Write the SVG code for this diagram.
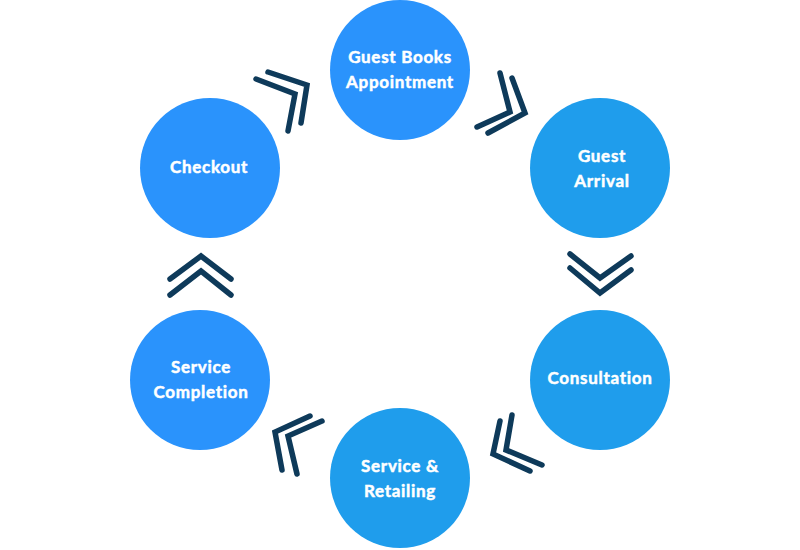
<svg xmlns="http://www.w3.org/2000/svg" width="800" height="550" viewBox="0 0 800 550">
<style>
.a{fill:#2A93FC}
.b{fill:#1F9DEC}
.t{font-family:Lato,"Open Sans","Liberation Sans",sans-serif;font-weight:700;font-size:17px;letter-spacing:0.7px;fill:#fff;stroke:#fff;stroke-width:0.5;text-anchor:middle}
.c{fill:none;stroke:#0E3A5A;stroke-width:5.5;stroke-linecap:round;stroke-linejoin:miter}
</style>
<rect width="800" height="550" fill="#fff"/>
<g id="connectors">
<polyline class="c" points="256,79 295,94 288,131"/>
<polyline class="c" points="268,72 307,85 301,123"/>
<polyline class="c" points="500,73 510,112 477,127"/>
<polyline class="c" points="512,78 525,113 488,133"/>
<polyline class="c" points="570,254 600,278 631,256"/>
<polyline class="c" points="570,268 600,293 631,270"/>
<polyline class="c" points="500,421 493,454 530,471"/>
<polyline class="c" points="512,415 506,450 542,465"/>
<polyline class="c" points="310,416 275,432 282,470"/>
<polyline class="c" points="322,421 288,436 297,474"/>
<polyline class="c" points="170,279 201,256 231,279"/>
<polyline class="c" points="170,295 201,271 231,295"/>
</g>
<g id="n1"><circle class="a" cx="400" cy="70" r="70"/><text class="t" x="400" y="63">Guest Books</text><text class="t" x="400" y="88">Appointment</text></g>
<g id="n2"><circle class="b" cx="600" cy="168" r="70"/><text class="t" x="602" y="162">Guest</text><text class="t" x="602" y="187">Arrival</text></g>
<g id="n3"><circle class="b" cx="600" cy="380" r="70"/><text class="t" x="600" y="384">Consultation</text></g>
<g id="n4"><circle class="b" cx="400" cy="478" r="70"/><text class="t" x="400" y="472">Service &amp;</text><text class="t" x="400" y="497">Retailing</text></g>
<g id="n5"><circle class="a" cx="200" cy="380" r="70"/><text class="t" x="201" y="373">Service</text><text class="t" x="201" y="398">Completion</text></g>
<g id="n6"><circle class="a" cx="210" cy="168" r="70"/><text class="t" x="209" y="173">Checkout</text></g>
</svg>
